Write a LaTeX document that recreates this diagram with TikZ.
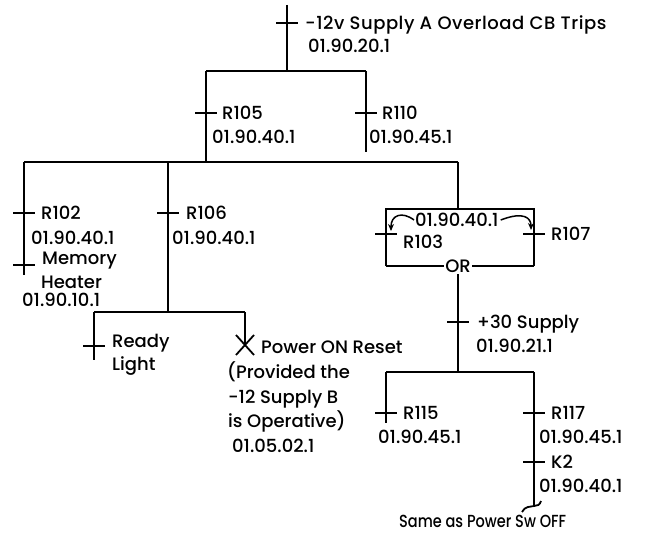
\documentclass[tikz,border=0pt]{standalone}
\usepackage{fontspec}
\setmainfont{Poppins}[UprightFont=* Medium]
\usetikzlibrary{arrows.meta}
\begin{document}
\begin{tikzpicture}[x=1pt,y=-1pt,
  wire/.style={line width=1.8pt},
  tk/.style={line width=1.8pt},
  lbl/.style={anchor=west, inner sep=0pt, text height=12.6pt, text depth=0pt, font=\fontsize{18}{21}\selectfont},
  small/.style={lbl, font=\fontsize{17.5}{21}\selectfont\addfontfeatures{FakeStretch=0.83}},
  curl/.style={line width=1.5pt, -{Stealth[length=7pt,width=6pt]}}]
\useasboundingbox (0,0) rectangle (657,535);
% junction coordinates
\coordinate (top) at (287,5);
\coordinate (ttk) at (287,23);
\coordinate (j1) at (287,71);
\coordinate (aL) at (206,71);
\coordinate (aR) at (366,71);
\coordinate (r105) at (206,113);
\coordinate (r110) at (366,113);
\coordinate (r110e) at (366,152);
\coordinate (j2) at (206,162);
\coordinate (bL) at (24,162);
\coordinate (bM) at (168,162);
\coordinate (bR) at (458,162);
\coordinate (r102) at (24,213);
\coordinate (mem) at (24,265);
\coordinate (r102e) at (24,275);
\coordinate (r106) at (168,213);
\coordinate (j3) at (168,312);
\coordinate (cL) at (94,312);
\coordinate (cR) at (245,312);
\coordinate (rdy) at (94,346);
\coordinate (rdye) at (94,360);
\coordinate (pwr) at (245,345);
\coordinate (boxT) at (458,209);
\coordinate (boxNW) at (386,209);
\coordinate (boxNE) at (534,209);
\coordinate (boxSW) at (386,266);
\coordinate (boxSE) at (534,266);
\coordinate (r103) at (386,234);
\coordinate (r107) at (534,234);
\coordinate (p30) at (458,322);
\coordinate (j4) at (458,372);
\coordinate (dL) at (386,372);
\coordinate (dR) at (534,372);
\coordinate (r115) at (386,413);
\coordinate (r115e) at (386,423);
\coordinate (r117) at (534,413);
\coordinate (k2) at (534,462);
\coordinate (r117e) at (534,506);

% labels
\node[lbl, font=\fontsize{18}{21}\selectfont\addfontfeatures{LetterSpace=3}] (t1) at (305,23) {-12v Supply A Overload CB Trips};
\node[lbl] (t2) at (308,46) {01.90.20.1};
\node[lbl] (l105) at (222,113) {R105};
\node[lbl] (n105) at (212,137) {01.90.40.1};
\node[lbl] (l110) at (382,113) {R110};
\node[lbl] (n110) at (369,137) {01.90.45.1};
\node[lbl] (l102) at (41,213) {R102};
\node[lbl] (n102) at (31,238) {01.90.40.1};
\node[lbl] (lmem) at (42,258) {Memory};
\node[lbl] (lhea) at (41,282) {Heater};
\node[lbl] (nmem) at (22,300) {01.90.10.1};
\node[lbl] (l106) at (186,213) {R106};
\node[lbl] (n106) at (172,238) {01.90.40.1};
\node[lbl] (nbox) at (415,220) {01.90.40.1};
\node[lbl] (l103) at (403,242) {R103};
\node[lbl] (l107) at (551,234) {R107};
\node[lbl, anchor=center, inner sep=1.5pt] (or) at (458,266) {OR};
\node[lbl] (lrdy) at (112,341) {Ready};
\node[lbl] (lrdy2) at (112,364) {Light};
\node[lbl] (lpw1) at (261,347) {Power ON Reset};
\node[lbl] (lpw2) at (227,372) {(Provided the};
\node[lbl] (lpw3) at (228,397) {-12 Supply B};
\node[lbl] (lpw4) at (228,421) {is Operative)};
\node[lbl] (lpw5) at (232,446) {01.05.02.1};
\node[lbl] (l30) at (477,322) {+30 Supply};
\node[lbl] (n30) at (476,346) {01.90.21.1};
\node[lbl] (l115) at (403,413) {R115};
\node[lbl] (n115) at (378,437) {01.90.45.1};
\node[lbl] (l117) at (551,413) {R117};
\node[lbl] (n117) at (539,437) {01.90.45.1};
\node[lbl] (lk2) at (551,462) {K2};
\node[lbl] (nk2) at (539,486) {01.90.40.1};
\node[small] (same) at (399,521) {Same as Power Sw OFF};

% wires
\draw[wire] (top) -- (j1);
\draw[wire] (aL) -- (aR);
\draw[wire] (aL) -- (j2);
\draw[wire] (aR) -- (r110e);
\draw[wire] (bL) -- (bR);
\draw[wire] (bL) -- (r102e);
\draw[wire] (bM) -- (j3);
\draw[wire] (cL) -- (cR);
\draw[wire] (cL) -- (rdye);
\draw[wire] (cR) -- (pwr);
\draw[wire] (bR) -- (boxT);
\draw[wire] (boxSW) -- (boxNW) -- (boxNE) -- (boxSE);
\draw[wire] (boxSW) -- (or.west);
\draw[wire] (or.east) -- (boxSE);
\draw[wire] (or.south) -- (j4);
\draw[wire] (dL) -- (dR);
\draw[wire] (dL) -- (r115e);
\draw[wire] (dR) -- (r117e);
% bottom squiggle
\draw[wire] (r117e) .. controls (530,507) and (525,506) .. (522,512);
\draw[wire] (r117e) .. controls (537,506) and (540,505) .. (541,501);

% ticks (contacts)
\foreach \c in {ttk,r105,r110,r102,mem,r106,rdy,r103,r107,p30,r115,r117,k2}
  \draw[tk] ([xshift=-11pt]\c) -- ([xshift=11pt]\c);
% X contact
\draw[tk] ([shift={(-9,-10)}]pwr) -- ([shift={(9,10)}]pwr);
\draw[tk] ([shift={(9,-10)}]pwr) -- ([shift={(-9,10)}]pwr);

% curly arrows
\draw[curl] ([xshift=-1pt]nbox.west) .. controls (402,211) and (391,215) .. (391,231);
\draw[curl] ([xshift=2pt]nbox.east) .. controls (524,211) and (531,218) .. (531,230);
\end{tikzpicture}
\end{document}
